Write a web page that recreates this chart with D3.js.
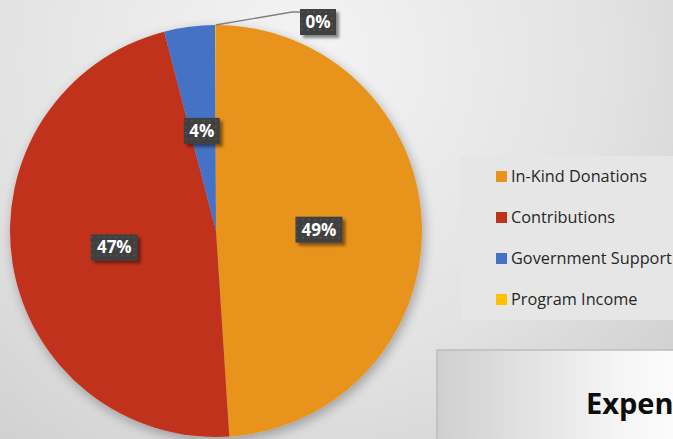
<!DOCTYPE html>
<html>
<head>
    <script src="https://cdnjs.cloudflare.com/ajax/libs/d3/7.8.5/d3.min.js"></script>
    <style>
        body { margin: 0; overflow: hidden; }
        svg { display: block; }
    </style>
</head>
<body>
    <div id="chart"></div>
    <script>
        // data
        const categories = ["In-Kind Donations", "Contributions", "Government Support", "Program Income"];
        const shares = [49, 47, 4, 0.05];
        const labels = ["49%", "47%", "4%", "0%"];
        const colors = ["#E8931A", "#C0311A", "#4472C4", "#FFC000"];

        const width = 673, height = 439;
        const cx = 216, cy = 231, radius = 206;

        const svg = d3.select("#chart").append("svg")
            .attr("width", width)
            .attr("height", height);

        const defs = svg.append("defs");

        // page background: light top-left, darker bottom-right
        const bg = defs.append("radialGradient")
            .attr("id", "bg")
            .attr("gradientUnits", "userSpaceOnUse")
            .attr("cx", 300).attr("cy", 60).attr("r", 520);
        bg.append("stop").attr("offset", "0%").attr("stop-color", "#f4f4f4");
        bg.append("stop").attr("offset", "60%").attr("stop-color", "#e2e2e2");
        bg.append("stop").attr("offset", "100%").attr("stop-color", "#cdcdcd");

        const titleGrad = defs.append("linearGradient")
            .attr("id", "titleGrad")
            .attr("x1", "0%").attr("x2", "100%");
        titleGrad.append("stop").attr("offset", "0%").attr("stop-color", "#cfcfcf");
        titleGrad.append("stop").attr("offset", "70%").attr("stop-color", "#f5f5f5");
        titleGrad.append("stop").attr("offset", "100%").attr("stop-color", "#ffffff");

        const shadow = defs.append("filter")
            .attr("id", "shadow")
            .attr("x", "-20%").attr("y", "-20%").attr("width", "140%").attr("height", "140%");
        shadow.append("feGaussianBlur").attr("in", "SourceAlpha").attr("stdDeviation", 6);
        shadow.append("feOffset").attr("dx", 2).attr("dy", 4).attr("result", "blur");
        shadow.append("feComponentTransfer").append("feFuncA").attr("type", "linear").attr("slope", 0.3);
        const merge = shadow.append("feMerge");
        merge.append("feMergeNode");
        merge.append("feMergeNode").attr("in", "SourceGraphic");

        const boxShadow = defs.append("filter")
            .attr("id", "boxShadow")
            .attr("x", "-30%").attr("y", "-30%").attr("width", "160%").attr("height", "160%");
        boxShadow.append("feGaussianBlur").attr("in", "SourceAlpha").attr("stdDeviation", 1.5);
        boxShadow.append("feOffset").attr("dx", 3).attr("dy", 3).attr("result", "b");
        boxShadow.append("feComponentTransfer").append("feFuncA").attr("type", "linear").attr("slope", 0.45);
        const m2 = boxShadow.append("feMerge");
        m2.append("feMergeNode");
        m2.append("feMergeNode").attr("in", "SourceGraphic");

        // dotted texture for the label boxes
        const pat = defs.append("pattern")
            .attr("id", "dots")
            .attr("width", 6).attr("height", 6)
            .attr("patternUnits", "userSpaceOnUse");
        pat.append("rect").attr("width", 6).attr("height", 6).attr("fill", "#3f3f3f");
        pat.append("rect").attr("x", 1).attr("y", 1).attr("width", 2).attr("height", 2).attr("fill", "#505050");

        svg.append("rect")
            .attr("width", width).attr("height", height)
            .attr("fill", "url(#bg)");

        // pie
        const pie = d3.pie().sort(null).value(d => d);
        const arcs = pie(shares);
        const arc = d3.arc().innerRadius(0).outerRadius(radius);

        const g = svg.append("g")
            .attr("transform", `translate(${cx},${cy})`);

        g.append("g")
            .attr("filter", "url(#shadow)")
            .selectAll("path")
            .data(arcs)
            .enter().append("path")
            .attr("d", arc)
            .attr("fill", (d, i) => colors[i]);

        // data labels
        const labelArc = d3.arc().innerRadius(radius * 0.5).outerRadius(radius * 0.5);

        function labelPos(d, i) {
            if (i === 3) {
                // outside label for the tiny slice
                return [102, -209];
            }
            const c = labelArc.centroid(d);
            if (i === 2) return [c[0] - 1, c[1] + 2];
            if (i === 0) return [c[0], c[1] + 2];
            return c;
        }

        // leader line for the tiny slice
        const small = arcs[3];
        const mid = (small.startAngle + small.endAngle) / 2;
        const p0 = [radius * Math.sin(mid), -radius * Math.cos(mid)];
        const pl = labelPos(small, 3);
        g.append("polyline")
            .attr("points", [p0, [pl[0] - 26, -219], [pl[0] - 18, -219]].map(p => p.join(",")).join(" "))
            .attr("fill", "none")
            .attr("stroke", "#7f7f7f")
            .attr("stroke-width", 1.3);

        const lab = g.selectAll(".lab")
            .data(arcs)
            .enter().append("g")
            .attr("class", "lab")
            .attr("transform", (d, i) => {
                const p = labelPos(d, i);
                return `translate(${p[0]},${p[1]})`;
            });

        lab.each(function(d, i) {
            const sel = d3.select(this);
            const w = labels[i].length === 2 ? 36 : 47;
            sel.append("rect")
                .attr("x", -w / 2).attr("y", -13)
                .attr("width", w).attr("height", 26)
                .attr("fill", "url(#dots)")
                .attr("filter", "url(#boxShadow)");
            sel.append("text")
                .attr("text-anchor", "middle")
                .attr("dy", "0.36em")
                .attr("fill", "#ffffff")
                .attr("font-family", "'Open Sans', sans-serif")
                .attr("font-weight", "bold")
                .attr("font-size", 17)
                .text(labels[i]);
        });

        // legend
        const legend = svg.append("g");
        legend.append("rect")
            .attr("x", 461).attr("y", 156)
            .attr("width", 220).attr("height", 164)
            .attr("fill", "#e6e6e6");

        const ly = d3.scalePoint()
            .domain(categories)
            .range([176, 299]);

        const item = legend.selectAll(".item")
            .data(categories)
            .enter().append("g")
            .attr("transform", d => `translate(496,${ly(d)})`);

        item.append("rect")
            .attr("x", 0).attr("y", -5)
            .attr("width", 11).attr("height", 11)
            .attr("fill", (d, i) => colors[i]);

        item.append("text")
            .attr("x", 15)
            .attr("dy", "0.35em")
            .attr("fill", "#262626")
            .attr("font-family", "'Open Sans', sans-serif")
            .attr("font-size", 16.3)
            .text(d => d);

        // cut-off title panel at bottom right
        svg.append("rect")
            .attr("x", 437).attr("y", 350)
            .attr("width", 260).attr("height", 120)
            .attr("fill", "url(#titleGrad)")
            .attr("stroke", "#bdbdbd")
            .attr("stroke-width", 1.5);

        svg.append("text")
            .attr("x", 586).attr("y", 414)
            .attr("font-family", "'Open Sans', sans-serif")
            .attr("font-weight", "bold")
            .attr("font-size", 29)
            .attr("fill", "#0d0d0d")
            .text("Expen");
    </script>
</body>
</html>
